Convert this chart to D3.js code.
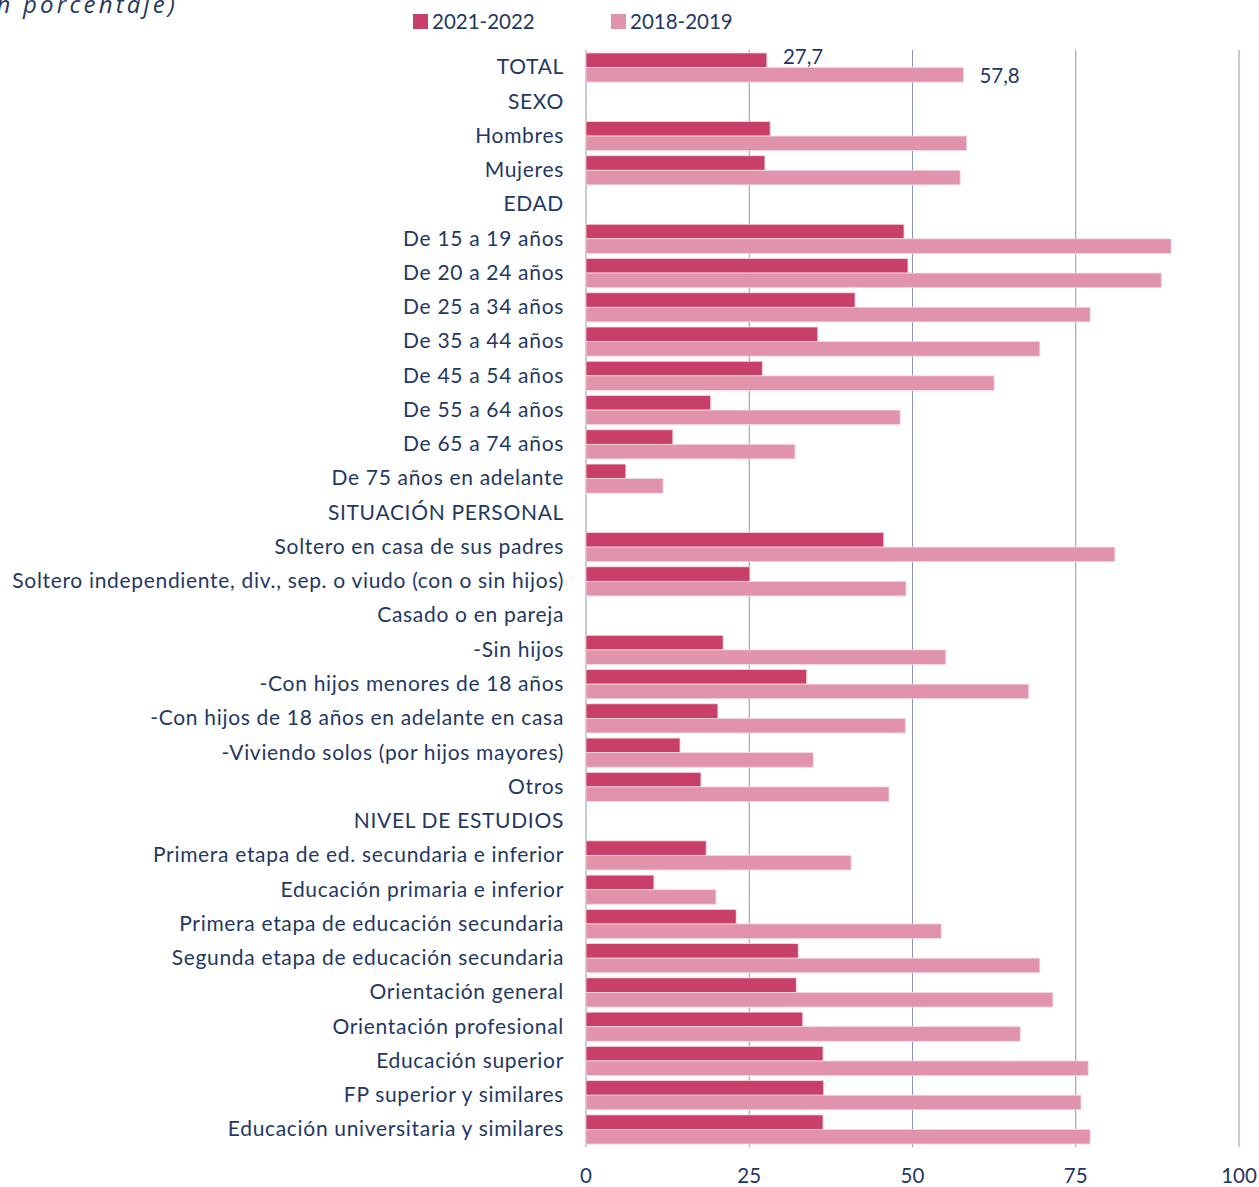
<!DOCTYPE html>
<html>
<head>
<meta charset="utf-8">
<script src="https://cdn.jsdelivr.net/npm/d3@7"></script>
<style>
  body { margin: 0; background: #fff; }
  text { font-family: Lato, "Open Sans", sans-serif; fill: #1f3864; }
</style>
</head>
<body>
<div id="chart"></div>
<script>
// --data--
const categories = [
  "TOTAL", "SEXO", "Hombres", "Mujeres", "EDAD",
  "De 15 a 19 años", "De 20 a 24 años", "De 25 a 34 años", "De 35 a 44 años",
  "De 45 a 54 años", "De 55 a 64 años", "De 65 a 74 años", "De 75 años en adelante",
  "SITUACIÓN PERSONAL", "Soltero en casa de sus padres",
  "Soltero independiente, div., sep. o viudo (con o sin hijos)",
  "Casado o en pareja", "-Sin hijos", "-Con hijos menores de 18 años",
  "-Con hijos de 18 años en adelante en casa", "-Viviendo solos (por hijos mayores)",
  "Otros", "NIVEL DE ESTUDIOS",
  "Primera etapa de ed. secundaria e inferior", "Educación primaria e inferior",
  "Primera etapa de educación secundaria", "Segunda etapa de educación secundaria",
  "Orientación general", "Orientación profesional", "Educación superior",
  "FP superior y similares", "Educación universitaria y similares"
];
// null = section header, no bar
const values2122 = [
  27.7, null, 28.2, 27.4, null,
  48.7, 49.3, 41.2, 35.5, 27.0, 19.1, 13.3, 6.1,
  null, 45.6, 25.1, null, 21.0, 33.8, 20.2, 14.4, 17.6,
  null, 18.4, 10.4, 23.0, 32.5, 32.2, 33.2, 36.3, 36.4, 36.3
];
const values1819 = [
  57.8, null, 58.3, 57.3, null,
  89.6, 88.1, 77.2, 69.5, 62.5, 48.1, 32.0, 11.8,
  null, 81.0, 49.0, null, 55.1, 67.8, 48.9, 34.8, 46.4,
  null, 40.6, 19.9, 54.4, 69.5, 71.5, 66.5, 76.9, 75.8, 77.2
];
const seriesNames = ["2021-2022", "2018-2019"];
const seriesColors = ["#c83f69", "#e093aa"];
const xTicks = [0, 25, 50, 75, 100];
const labelled = ["TOTAL"]; // only row with data labels

// --graph--
const W = 1259, H = 1187;
const svg = d3.select("#chart").append("svg")
  .attr("width", W).attr("height", H);

const x = d3.scaleLinear().domain([0, 100]).range([586, 1239]);
const y = d3.scaleBand().domain(categories).range([50.4, 1146.6]).paddingInner(0.15).paddingOuter(0.075);
const y2 = d3.scaleBand().domain([0, 1]).range([0, y.bandwidth()]);

// title (cut off at left edge like the source)
svg.append("text")
  .attr("x", 178).attr("y", 13)
  .attr("text-anchor", "end")
  .style("font-family", "'Open Sans', sans-serif")
  .style("font-style", "italic")
  .style("font-size", "24px")
  .style("letter-spacing", "3.2px")
  .text("(en porcentaje)");

// legend
const leg = svg.append("g");
[413, 611].forEach(function(lx, i) {
  leg.append("rect").attr("x", lx).attr("y", 14).attr("width", 15).attr("height", 15)
    .attr("fill", seriesColors[i]);
  leg.append("text").attr("x", lx + 19).attr("y", 22).attr("dy", "0.35em")
    .style("font-size", "20.5px").text(seriesNames[i]);
});

// gridlines
svg.append("g").selectAll("line")
  .data(xTicks)
  .join("line")
  .attr("x1", d => x(d)).attr("x2", d => x(d))
  .attr("y1", 50).attr("y2", 1147)
  .attr("stroke", "#8a97b3").attr("stroke-width", 1);

// bars
const rows = categories.map((c, i) => ({ cat: c, vals: [values2122[i], values1819[i]] }));
const rowG = svg.append("g").selectAll("g")
  .data(rows)
  .join("g")
  .attr("transform", d => `translate(0,${y(d.cat)})`);

rowG.selectAll("rect")
  .data(d => d.vals.map((v, k) => ({ v: v, k: k })).filter(e => e.v !== null))
  .join("rect")
  .attr("x", x(0))
  .attr("y", e => y2(e.k))
  .attr("width", e => x(e.v) - x(0))
  .attr("height", y2.bandwidth())
  .attr("fill", e => seriesColors[e.k])
  .attr("stroke", "#f6d9e2").attr("stroke-width", 0.8);

// value labels for TOTAL
rowG.filter(d => labelled.includes(d.cat))
  .selectAll("text.val")
  .data(d => d.vals.map((v, k) => ({ v: v, k: k })))
  .join("text")
  .attr("class", "val")
  .attr("x", e => x(e.v) + 16)
  .attr("y", e => y2(e.k) + y2.bandwidth() / 2 + (e.k === 0 ? -3 : 1))
  .attr("dy", "0.35em")
  .style("font-size", "20.5px")
  .text(e => d3.format(".1f")(e.v).replace(".", ","));

// category labels
svg.append("g").selectAll("text")
  .data(categories)
  .join("text")
  .attr("x", 564)
  .attr("y", d => y(d) + y.bandwidth() / 2 - 0.5)
  .attr("dy", "0.35em")
  .attr("text-anchor", "end")
  .style("font-size", "21px")
  .style("letter-spacing", "0.68px")
  .text(d => d);

// x axis labels
svg.append("g").selectAll("text")
  .data(xTicks)
  .join("text")
  .attr("x", d => x(d))
  .attr("y", 1176)
  .attr("dy", "0.35em")
  .attr("text-anchor", "middle")
  .style("font-size", "20.5px")
  .text(d => d);
</script>
</body>
</html>
